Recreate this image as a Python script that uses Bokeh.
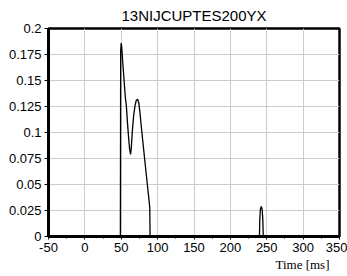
from bokeh.plotting import figure
from bokeh.models import FixedTicker, Range1d, Title
from bokeh.embed import file_html
from bokeh.resources import INLINE

# Data
time_ms = [-50, 48.8, 49.2, 49.9, 50.7, 52.0, 54.0, 55.6, 56.3, 57.0, 58.5, 60.0, 61.5,
           62.8, 63.8, 65.0, 67.0, 69.0, 70.7, 72.5, 74.0, 75.6, 77.5, 80.0, 83.0, 86.0,
           89.2, 89.6, 240.0, 240.4, 241.2, 242.5, 243.7, 244.6, 245.2, 350]
accel = [0, 0, 0.178, 0.186, 0.182, 0.168, 0.149, 0.134, 0.130, 0.126, 0.110, 0.096,
         0.084, 0.079, 0.085, 0.099, 0.116, 0.126, 0.131, 0.132, 0.129, 0.120, 0.106,
         0.089, 0.069, 0.049, 0.028, 0, 0, 0.016, 0.026, 0.029, 0.026, 0.016, 0, 0]

x_ticks = [-50, 0, 50, 100, 150, 200, 250, 300, 350]
x_labels = ["-50", "0", "50", "100", "150", "200", "250", "300", "350"]
x_minor = [-25, 25, 75, 125, 175, 225, 275, 325]
y_ticks = [0, 0.025, 0.05, 0.075, 0.1, 0.125, 0.15, 0.175, 0.2]
y_labels = ["0", "0.025", "0.05", "0.075", "0.1", "0.125", "0.15", "0.175", "0.2"]
title_text = "13NIJCUPTES200YX"
x_label = "Time [ms]"

p = figure(width=347, height=276, output_backend="svg", toolbar_location=None,
           x_range=Range1d(-50, 350), y_range=Range1d(0, 0.2),
           title=title_text,
           min_border_left=48, min_border_right=8, min_border_top=28, min_border_bottom=40)

p.title.align = "center"
p.title.text_font = "Liberation Sans"
p.title.text_font_size = "15px"
p.title.text_font_style = "normal"
p.title.text_color = "#000000"
p.title.standoff = 9

p.line(time_ms, accel, line_color="black", line_width=1.3)

# axes
p.xaxis.ticker = FixedTicker(ticks=x_ticks, minor_ticks=x_minor)
p.xaxis.major_label_overrides = {t: l for t, l in zip(x_ticks, x_labels)}
p.yaxis.ticker = FixedTicker(ticks=y_ticks)
p.yaxis.major_label_overrides = {t: l for t, l in zip(y_ticks, y_labels)}
for ax in (p.xaxis, p.yaxis):
    ax.axis_line_width = 3
    ax.axis_line_color = "black"
    ax.major_tick_line_color = "black"
    ax.major_tick_in = 0
    ax.major_label_text_font = "Liberation Sans"
    ax.major_label_text_font_size = "13px"
    ax.major_label_text_color = "black"
p.xaxis.major_tick_out = 3
p.xaxis.minor_tick_out = 2
p.xaxis.minor_tick_in = 0
p.xaxis.minor_tick_line_color = "black"
p.xaxis.major_label_standoff = 3
p.yaxis.major_tick_out = 4
p.yaxis.minor_tick_line_color = None
p.yaxis.major_label_standoff = 3

# grid
p.xgrid.ticker = FixedTicker(ticks=x_ticks)
p.ygrid.ticker = FixedTicker(ticks=y_ticks)
p.grid.grid_line_color = "#cccccc"
p.grid.grid_line_width = 1

p.outline_line_color = "black"
p.outline_line_width = 2.5
p.background_fill_color = "white"
p.border_fill_color = "white"

xl = Title(text=x_label, align="right", offset=10, standoff=0,
           text_font="Liberation Serif", text_font_size="13px",
           text_font_style="normal", text_color="black")
p.add_layout(xl, "below")

open("out.html", "w").write(file_html(p, INLINE))
